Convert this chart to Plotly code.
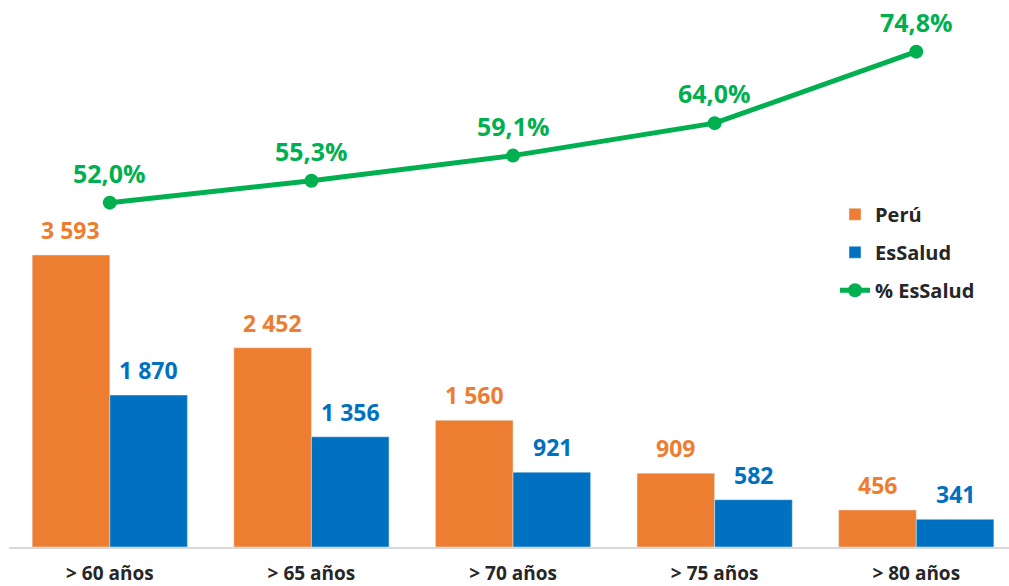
import plotly.graph_objects as go

categories = ["> 60 años", "> 65 años", "> 70 años", "> 75 años", "> 80 años"]
peru = [3593, 2452, 1560, 909, 456]
essalud = [1870, 1356, 921, 582, 341]
pct = [52.0, 55.3, 59.1, 64.0, 74.8]

ORANGE = "#ED7D31"
BLUE = "#0070C0"
GREEN = "#00B050"
FONT = "Open Sans"

def fmt_thousands(v):
    return f"{v:,}".replace(",", " ")

def fmt_pct(v):
    return f"{v:.1f}%".replace(".", ",")

fig = go.Figure()
fig.add_trace(go.Bar(x=categories, y=peru, name="Perú", marker_color=ORANGE,
                     legendgroup="a", hoverinfo="skip"))
fig.add_trace(go.Bar(x=categories, y=essalud, name="EsSalud", marker_color=BLUE,
                     legendgroup="b", hoverinfo="skip"))
fig.add_trace(go.Scatter(x=categories, y=pct, name="% EsSalud", yaxis="y2",
                         mode="lines+markers", legendgroup="c",
                         line=dict(color=GREEN, width=5),
                         marker=dict(color=GREEN, size=14), hoverinfo="skip"))

annotations = []
for c, v in zip(categories, peru):
    annotations.append(dict(x=c, y=v, text=fmt_thousands(v), showarrow=False,
                            xshift=-39, yshift=7, yanchor="bottom", yref="y",
                            font=dict(family=FONT, size=23, color=ORANGE, weight="bold")))
for c, v in zip(categories, essalud):
    annotations.append(dict(x=c, y=v, text=fmt_thousands(v), showarrow=False,
                            xshift=39, yshift=7, yanchor="bottom", yref="y",
                            font=dict(family=FONT, size=23, color=BLUE, weight="bold")))
for c, v in zip(categories, pct):
    annotations.append(dict(x=c, y=v, text=fmt_pct(v), showarrow=False,
                            yshift=12, yanchor="bottom", yref="y2", borderpad=0,
                            font=dict(family=FONT, size=25, color=GREEN, weight="bold")))

# plot area: bottom at 547 px, left at 9 px (page = figure, body margin removed)
fig.update_layout(
    width=1009, height=586,
    margin=dict(l=9, r=0, t=0, b=39, autoexpand=False),
    paper_bgcolor="white", plot_bgcolor="white",
    barmode="group", bargap=0.23, bargroupgap=0,
    font=dict(family=FONT, color="#262626"),
    xaxis=dict(range=[-0.5, 4.46], showgrid=False, showline=True,
               linecolor="#D9D9D9", linewidth=2, ticks="", automargin=False,
               ticklabelstandoff=8,
               tickfont=dict(family=FONT, size=19, color="#262626", weight="bold")),
    yaxis=dict(range=[0, 6731], visible=False, showgrid=False),
    yaxis2=dict(range=[0, 82.6], overlaying="y", visible=False, showgrid=False),
    legend=dict(x=0.826, y=0.644, xanchor="left", yanchor="top",
                font=dict(family=FONT, size=20, color="#262626", weight="bold"),
                tracegroupgap=9, bgcolor="rgba(0,0,0,0)"),
    annotations=annotations,
    showlegend=True,
)

fig.write_html("out.html", config={"displayModeBar": False},
               post_script="document.body.style.margin='0px';document.body.style.padding='0px';")
